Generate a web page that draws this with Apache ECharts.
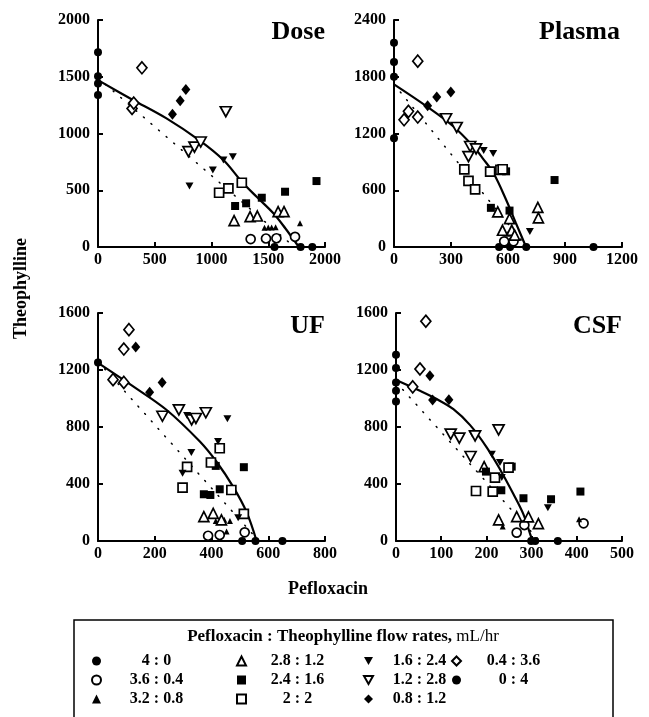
<!DOCTYPE html>
<html>
<head>
<meta charset="utf-8">
<script src="https://cdn.jsdelivr.net/npm/echarts@6/dist/echarts.min.js"></script>
<style>
  html, body { margin: 0; padding: 0; background: #fff; }
  #chart { width: 649px; height: 717px; }
</style>
</head>
<body>
<div id="chart"></div>
<script>
// Pefloxacin : Theophylline flow-rate combinations (mL/hr)
const flowRates = ['4 : 0', '3.6 : 0.4', '3.2 : 0.8', '2.8 : 1.2', '2.4 : 1.6', '2 : 2',
                   '1.6 : 2.4', '1.2 : 2.8', '0.8 : 1.2', '0.4 : 3.6', '0 : 4'];

const panelTitles = ['Dose', 'Plasma', 'UF', 'CSF'];

// Tick labels for each panel
const doseXTicks = [0, 500, 1000, 1500, 2000];
const doseYTicks = [0, 500, 1000, 1500, 2000];
const plasmaXTicks = [0, 300, 600, 900, 1200];
const plasmaYTicks = [0, 600, 1200, 1800, 2400];
const ufXTicks = [0, 200, 400, 600, 800];
const ufYTicks = [0, 400, 800, 1200, 1600];
const csfXTicks = [0, 100, 200, 300, 400, 500];
const csfYTicks = [0, 400, 800, 1200, 1600];

// Observations: [pefloxacin, theophylline, flow rate]
const dosePoints = [
  [0, 1715, '0 : 4'], [0, 1505, '0 : 4'], [0, 1440, '0 : 4'], [0, 1340, '0 : 4'],
  [1555, 0, '4 : 0'], [1785, 0, '4 : 0'], [1888, 0, '4 : 0'],
  [1345, 70, '3.6 : 0.4'], [1480, 75, '3.6 : 0.4'], [1572, 77, '3.6 : 0.4'], [1736, 90, '3.6 : 0.4'],
  [1467, 170, '3.2 : 0.8'], [1500, 172, '3.2 : 0.8'], [1530, 172, '3.2 : 0.8'], [1565, 175, '3.2 : 0.8'], [1780, 209, '3.2 : 0.8'],
  [1199, 232, '2.8 : 1.2'], [1340, 267, '2.8 : 1.2'], [1404, 273, '2.8 : 1.2'], [1587, 311, '2.8 : 1.2'], [1639, 311, '2.8 : 1.2'],
  [1208, 361, '2.4 : 1.6'], [1305, 385, '2.4 : 1.6'], [1443, 434, '2.4 : 1.6'], [1648, 487, '2.4 : 1.6'], [1925, 581, '2.4 : 1.6'],
  [1067, 478, '2 : 2'], [1149, 517, '2 : 2'], [1267, 566, '2 : 2'],
  [806, 537, '1.6 : 2.4'], [1012, 678, '1.6 : 2.4'], [1105, 766, '1.6 : 2.4'], [1188, 795, '1.6 : 2.4'],
  [1126, 1192, '1.2 : 2.8'], [797, 840, '1.2 : 2.8'], [850, 880, '1.2 : 2.8'], [905, 925, '1.2 : 2.8'],
  [656, 1170, '0.8 : 1.2'], [724, 1288, '0.8 : 1.2'], [774, 1388, '0.8 : 1.2'],
  [387, 1579, '0.4 : 3.6'], [300, 1220, '0.4 : 3.6'], [315, 1268, '0.4 : 3.6']
];
const doseFit = [[0, 1470], [300, 1300], [600, 1135], [900, 935], [1105, 766], [1267, 575],
                 [1400, 440], [1545, 297], [1650, 165], [1736, 47], [1770, 0]];
const doseAdditive = [[0, 1490], [1730, 0]];

const plasmaPoints = [
  [0, 2160, '0 : 4'], [0, 1955, '0 : 4'], [0, 1800, '0 : 4'], [0, 1150, '0 : 4'],
  [553, 0, '4 : 0'], [611, 0, '4 : 0'], [696, 0, '4 : 0'], [1050, 0, '4 : 0'],
  [580, 60, '3.6 : 0.4'], [629, 60, '3.6 : 0.4'],
  [600, 140, '3.2 : 0.8'], [640, 110, '3.2 : 0.8'],
  [546, 372, '2.8 : 1.2'], [608, 301, '2.8 : 1.2'], [571, 177, '2.8 : 1.2'], [620, 177, '2.8 : 1.2'],
  [757, 418, '2.8 : 1.2'], [760, 308, '2.8 : 1.2'], [635, 125, '2.8 : 1.2'],
  [510, 414, '2.4 : 1.6'], [608, 385, '2.4 : 1.6'], [845, 708, '2.4 : 1.6'], [590, 800, '2.4 : 1.6'],
  [370, 820, '2 : 2'], [392, 700, '2 : 2'], [427, 610, '2 : 2'], [506, 797, '2 : 2'], [560, 815, '2 : 2'], [572, 822, '2 : 2'],
  [472, 1020, '1.6 : 2.4'], [522, 988, '1.6 : 2.4'], [715, 165, '1.6 : 2.4'],
  [274, 1356, '1.2 : 2.8'], [330, 1264, '1.2 : 2.8'], [401, 1062, '1.2 : 2.8'], [432, 1037, '1.2 : 2.8'], [392, 956, '1.2 : 2.8'],
  [177, 1494, '0.8 : 1.2'], [225, 1586, '0.8 : 1.2'], [299, 1639, '0.8 : 1.2'],
  [125, 1965, '0.4 : 3.6'], [53, 1345, '0.4 : 3.6'], [76, 1434, '0.4 : 3.6'], [125, 1374, '0.4 : 3.6']
];
const plasmaFit = [[0, 1720], [172, 1487], [313, 1274], [418, 1062], [470, 930], [524, 779],
                   [590, 500], [640, 260], [695, 0]];
const plasmaAdditive = [[0, 1720], [700, 0]];

const ufPoints = [
  [0, 1253, '0 : 4'],
  [508, 0, '4 : 0'], [555, 0, '4 : 0'], [650, 0, '4 : 0'],
  [388, 37, '3.6 : 0.4'], [429, 42, '3.6 : 0.4'], [517, 61, '3.6 : 0.4'],
  [415, 141, '3.2 : 0.8'], [465, 141, '3.2 : 0.8'], [453, 66, '3.2 : 0.8'], [445, 150, '3.2 : 0.8'],
  [373, 171, '2.8 : 1.2'], [406, 194, '2.8 : 1.2'], [435, 148, '2.8 : 1.2'],
  [415, 527, '2.4 : 1.6'], [514, 518, '2.4 : 1.6'], [373, 328, '2.4 : 1.6'], [396, 323, '2.4 : 1.6'], [429, 363, '2.4 : 1.6'],
  [429, 651, '2 : 2'], [398, 551, '2 : 2'], [314, 520, '2 : 2'], [298, 375, '2 : 2'], [470, 358, '2 : 2'], [514, 190, '2 : 2'],
  [314, 881, '1.6 : 2.4'], [456, 858, '1.6 : 2.4'], [423, 698, '1.6 : 2.4'], [329, 621, '1.6 : 2.4'], [298, 476, '1.6 : 2.4'], [494, 164, '1.6 : 2.4'],
  [227, 875, '1.2 : 2.8'], [285, 920, '1.2 : 2.8'], [330, 850, '1.2 : 2.8'], [345, 860, '1.2 : 2.8'], [380, 900, '1.2 : 2.8'],
  [133, 1361, '0.8 : 1.2'], [226, 1113, '0.8 : 1.2'], [182, 1043, '0.8 : 1.2'],
  [109, 1483, '0.4 : 3.6'], [91, 1347, '0.4 : 3.6'], [53, 1132, '0.4 : 3.6'], [91, 1113, '0.4 : 3.6']
];
const ufFit = [[0, 1250], [124, 1085], [241, 921], [359, 698], [417, 558], [476, 382], [523, 206], [559, 0]];
const ufAdditive = [[0, 1260], [567, 0]];

const csfPoints = [
  [0, 1307, '0 : 4'], [0, 1214, '0 : 4'], [0, 1113, '0 : 4'], [0, 1054, '0 : 4'], [0, 979, '0 : 4'],
  [299, 0, '4 : 0'], [308, 0, '4 : 0'], [358, 0, '4 : 0'],
  [267, 59, '3.6 : 0.4'], [284, 112, '3.6 : 0.4'], [415, 124, '3.6 : 0.4'],
  [236, 101, '3.2 : 0.8'], [405, 152, '3.2 : 0.8'],
  [227, 148, '2.8 : 1.2'], [267, 171, '2.8 : 1.2'], [293, 169, '2.8 : 1.2'], [315, 122, '2.8 : 1.2'], [195, 522, '2.8 : 1.2'],
  [256, 522, '2.4 : 1.6'], [199, 487, '2.4 : 1.6'], [233, 356, '2.4 : 1.6'], [282, 300, '2.4 : 1.6'], [343, 293, '2.4 : 1.6'], [408, 347, '2.4 : 1.6'],
  [219, 445, '2 : 2'], [214, 347, '2 : 2'], [177, 351, '2 : 2'], [249, 515, '2 : 2'],
  [169, 750, '1.6 : 2.4'], [212, 609, '1.6 : 2.4'], [230, 551, '1.6 : 2.4'], [234, 445, '1.6 : 2.4'], [336, 234, '1.6 : 2.4'],
  [121, 750, '1.2 : 2.8'], [140, 722, '1.2 : 2.8'], [175, 738, '1.2 : 2.8'], [227, 780, '1.2 : 2.8'], [165, 593, '1.2 : 2.8'],
  [75, 1160, '0.8 : 1.2'], [81, 989, '0.8 : 1.2'], [117, 991, '0.8 : 1.2'],
  [66, 1542, '0.4 : 3.6'], [53, 1207, '0.4 : 3.6'], [37, 1082, '0.4 : 3.6']
];
const csfFit = [[0, 1130], [53, 1054], [90, 996], [127, 925], [164, 813], [201, 656], [230, 504],
                [260, 328], [282, 187], [297, 47], [302, 0]];
const csfAdditive = [[0, 1115], [318, 0]];

// ---- drawing ----
const SERIF = '"Liberation Serif", "DejaVu Serif", "Times New Roman", serif';
const DOWN_TRIANGLE = 'path://M0,0 L10,0 L5,9 Z';

const panels = [
  { points: dosePoints, fit: doseFit, additive: doseAdditive, xt: doseXTicks, yt: doseYTicks,
    grid: { left: 98, top: 20, width: 227, height: 227 }, titleRight: 324, titleTop: 19 },
  { points: plasmaPoints, fit: plasmaFit, additive: plasmaAdditive, xt: plasmaXTicks, yt: plasmaYTicks,
    grid: { left: 394, top: 20, width: 228, height: 227 }, titleRight: 29, titleTop: 19 },
  { points: ufPoints, fit: ufFit, additive: ufAdditive, xt: ufXTicks, yt: ufYTicks,
    grid: { left: 98, top: 313, width: 227, height: 228 }, titleRight: 324, titleTop: 313 },
  { points: csfPoints, fit: csfFit, additive: csfAdditive, xt: csfXTicks, yt: csfYTicks,
    grid: { left: 396, top: 313, width: 226, height: 228 }, titleRight: 27, titleTop: 313 }
];

const markerStyle = {
  '4 : 0':     { symbol: 'circle', size: 8, filled: true },
  '3.6 : 0.4': { symbol: 'circle', size: 9, filled: false },
  '3.2 : 0.8': { symbol: 'triangle', size: 6, filled: true },
  '2.8 : 1.2': { symbol: 'triangle', size: 10, filled: false },
  '2.4 : 1.6': { symbol: 'rect', size: 8, filled: true },
  '2 : 2':     { symbol: 'rect', size: 9, filled: false },
  '1.6 : 2.4': { symbol: DOWN_TRIANGLE, size: [8, 7], filled: true },
  '1.2 : 2.8': { symbol: DOWN_TRIANGLE, size: [11, 10], filled: false },
  '0.8 : 1.2': { symbol: 'diamond', size: [9, 11], filled: true },
  '0.4 : 3.6': { symbol: 'diamond', size: [10, 12], filled: false },
  '0 : 4':     { symbol: 'circle', size: 8, filled: true }
};

function axis(ticks, idx, isX) {
  return {
    gridIndex: idx,
    type: 'value',
    min: ticks[0],
    max: ticks[ticks.length - 1],
    interval: ticks[1] - ticks[0],
    axisLine: { show: true, onZero: false, lineStyle: { color: '#000', width: 2 } },
    axisTick: { show: true, inside: true, length: 5, lineStyle: { color: '#000', width: 2 } },
    axisLabel: {
      color: '#000', fontFamily: SERIF, fontWeight: 'bold', fontSize: 16,
      margin: isX ? 5 : 8, showMinLabel: true, showMaxLabel: true,
      formatter: v => String(v)
    },
    splitLine: { show: false }
  };
}

const grids = [], xAxes = [], yAxes = [], series = [], titles = [];

panels.forEach((p, i) => {
  grids.push(Object.assign({ containLabel: false }, p.grid));
  xAxes.push(axis(p.xt, i, true));
  yAxes.push(axis(p.yt, i, false));
  titles.push({
    text: panelTitles[i], right: p.titleRight, top: p.titleTop, padding: 0,
    textStyle: { fontFamily: SERIF, fontWeight: 'bold', fontSize: 26, color: '#000' }
  });

  // straight line joining the single-drug means
  series.push({
    type: 'line', xAxisIndex: i, yAxisIndex: i, data: p.additive, symbol: 'none',
    silent: true, z: 1,
    lineStyle: { color: '#000', width: 1.5, type: [1, 9], cap: 'round' }
  });
  // fitted isobole
  series.push({
    type: 'line', xAxisIndex: i, yAxisIndex: i, data: p.fit, symbol: 'none', smooth: 0.35,
    silent: true, z: 2, clip: false,
    lineStyle: { color: '#000', width: 2.2 }
  });

  flowRates.forEach(rate => {
    const m = markerStyle[rate];
    const pts = p.points.filter(d => d[2] === rate).map(d => [d[0], d[1]]);
    series.push({
      name: rate, type: 'scatter', xAxisIndex: i, yAxisIndex: i, data: pts,
      symbol: m.symbol, symbolSize: m.size,
      clip: false, z: 3,
      itemStyle: m.filled
        ? { color: '#000', borderColor: '#000', borderWidth: 0, opacity: 1 }
        : { color: '#fff', borderColor: '#000', borderWidth: 1.7, opacity: 1 }
    });
  });
});

// Legend: four columns inside the framed box
const legendCols = [
  { names: ['4 : 0', '3.6 : 0.4', '3.2 : 0.8'], left: 91, w: 101 },
  { names: ['2.8 : 1.2', '2.4 : 1.6', '2 : 2'], left: 236, w: 93 },
  { names: ['1.6 : 2.4', '1.2 : 2.8', '0.8 : 1.2'], left: 363, w: 83 },
  { names: ['0.4 : 3.6', '0 : 4'], left: 451, w: 95 }
];
const legends = legendCols.map(c => ({
  data: c.names,
  orient: 'vertical',
  left: c.left,
  top: 653,
  padding: 0,
  itemGap: 3,
  itemWidth: 9,
  itemHeight: 9,
  selectedMode: false,
  formatter: n => '{t|' + n + '}',
  textStyle: {
    rich: {
      t: { width: c.w, align: 'center', fontFamily: SERIF, fontWeight: 'bold',
           fontSize: 16, color: '#000' }
    }
  }
}));

const option = {
  backgroundColor: '#fff',
  animation: false,
  title: titles,
  grid: grids,
  xAxis: xAxes,
  yAxis: yAxes,
  legend: legends,
  series: series,
  graphic: [
    {
      type: 'text', left: 12, top: 238, rotation: Math.PI / 2,
      style: { text: 'Theophylline', font: 'bold 18px ' + SERIF, fill: '#000' }
    },
    {
      type: 'text', x: 328, y: 589,
      style: { text: 'Pefloxacin', font: 'bold 18px ' + SERIF, fill: '#000',
               align: 'center', verticalAlign: 'middle' }
    },
    {
      type: 'rect', shape: { x: 74, y: 620, width: 539, height: 110 },
      style: { fill: 'none', stroke: '#000', lineWidth: 1.5 }
    },
    {
      type: 'text', x: 343, y: 637,
      style: {
        text: '{b|Pefloxacin : Theophylline flow rates, }{r|mL/hr}',
        align: 'center', verticalAlign: 'middle',
        rich: {
          b: { font: 'bold 17px ' + SERIF, fill: '#000' },
          r: { font: '17px ' + SERIF, fill: '#000' }
        }
      }
    }
  ]
};

const chart = echarts.init(document.getElementById('chart'), null, { renderer: 'canvas' });
chart.setOption(option);
</script>
</body>
</html>
